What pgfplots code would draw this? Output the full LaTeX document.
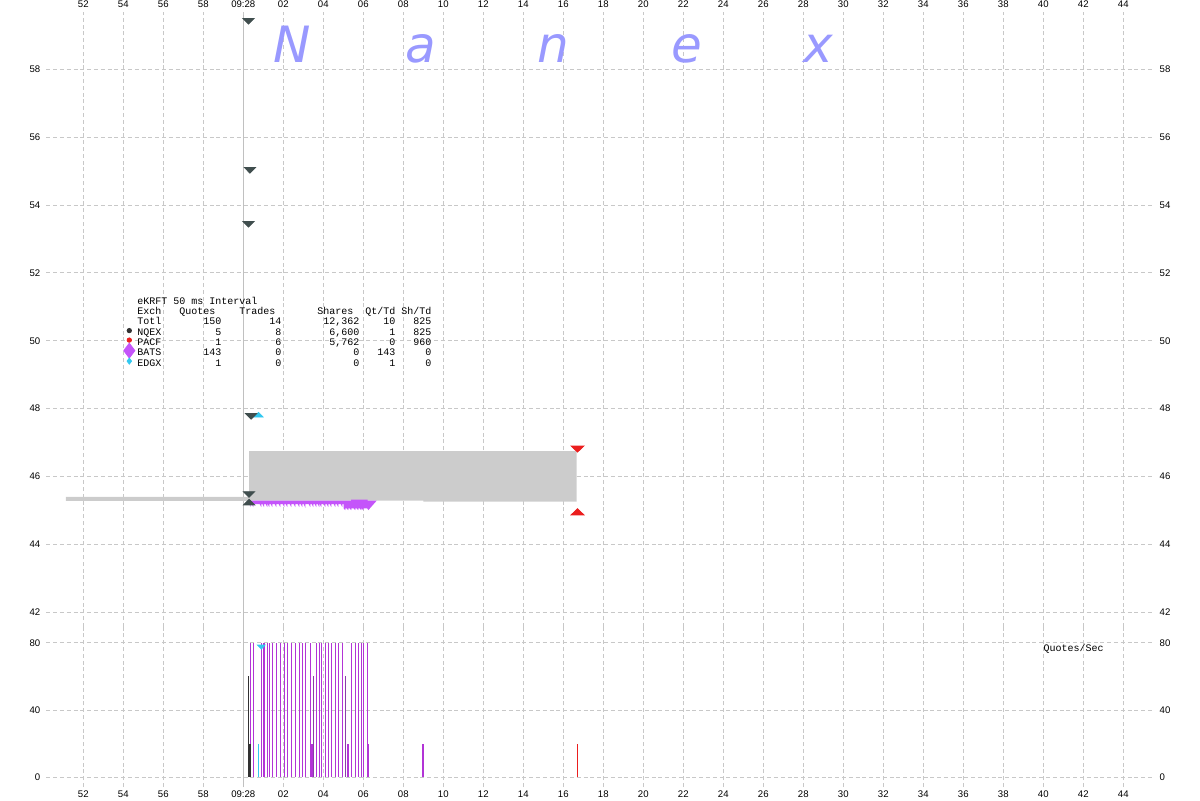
\documentclass[border=0pt]{standalone}
\usepackage{fontspec}
\setmainfont{Liberation Sans}
\setmonofont{Liberation Mono}
\newfontfamily\wm{DejaVu Sans}
\usepackage{pgfplots}
\pgfplotsset{compat=1.18}
\definecolor{gridc}{RGB}{200,200,200}
\definecolor{vline}{RGB}{192,192,192}
\definecolor{bandc}{RGB}{204,204,204}
\definecolor{batsc}{RGB}{196,84,250}
\definecolor{batsbar}{RGB}{178,52,214}
\definecolor{batsdark}{RGB}{140,60,170}
\definecolor{nqex}{RGB}{64,78,78}
\definecolor{nqexdot}{RGB}{50,50,50}
\definecolor{edgx}{RGB}{50,200,240}
\definecolor{pacf}{RGB}{235,30,30}
\definecolor{wmc}{RGB}{153,153,255}
\newcommand\s[1]{\hskip#1\fontcharwd\font`0\relax}
\pgfplotsset{
  base/.style={scale only axis, width=553.5pt, xmin=-9.85, xmax=45.5,
    anchor=south west,
    axis line style={draw=none}, tick style={draw=none}, major tick length=0pt,
    xtick={-8,-6,...,44},
    xticklabels={52,54,56,58,09:28,02,04,06,08,10,12,14,16,18,20,22,24,26,28,30,32,34,36,38,40,42,44},
    major grid style={gridc, line width=0.5pt, dash pattern=on 2pt off 1.4pt},
    tick label style={font=\fontsize{4.8}{5}\selectfont, inner sep=0pt},
    /pgf/number format/assume math mode=true,
  },
  rlab/.style={base, xtick=\empty, yticklabel pos=right, yticklabel style={anchor=west, xshift=3pt}},
}
\begin{document}
\begin{tikzpicture}
\path[use as bounding box] (0,0) rectangle (600pt,400pt);
% ---------- price panel ----------
\begin{axis}[base, at={(23.15pt,86.5pt)}, height=307.5pt,
  ymin=41.567, ymax=59.687, ytick={42,44,...,58}, grid=major,
  xticklabel pos=upper, xticklabel style={yshift=1.85pt},
  yticklabel style={xshift=-2.8pt}]
\addplot[vline, line width=0.6pt] coordinates {(0,41.567) (0,59.6)};
% NQEX quotes partially covered
\addplot[only marks, mark=triangle*, mark size=3.2pt, nqex, mark options={yscale=-0.58}] coordinates {(0.285,45.50)};
\addplot[only marks, mark=triangle*, mark size=3.2pt, nqex, mark options={yscale=0.58}] coordinates {(0.29,45.22)};
% NBBO band
\addplot[fill=bandc, draw=none] coordinates {(-8.87,45.28) (-8.87,45.40) (0.285,45.40) (0.285,46.75) (16.67,46.75) (16.67,45.26) (9.0,45.26) (9.0,45.29) (0.285,45.29) (0.285,45.28)};
% BATS quotes
\addplot[fill=batsc, draw=none] coordinates {
(0.285,45.29) (5.39,45.29) (5.39,45.32) (6.22,45.32) (6.22,45.29) (6.67,45.29) (6.25,45.01)
(6.20,45.06) (6.12,45.06)
(6.00,45.06) (6.00,45.01) (5.92,45.06)
(5.90,45.06) (5.90,45.01) (5.82,45.06)
(5.75,45.06) (5.75,45.01) (5.67,45.06)
(5.60,45.06) (5.60,45.01) (5.52,45.06)
(5.40,45.06) (5.40,45.01) (5.32,45.06)
(5.25,45.06) (5.25,45.01) (5.17,45.06)
(5.10,45.06) (5.10,45.01) (5.02,45.06) (5.02,45.19)
(4.95,45.19) (4.95,45.10) (4.87,45.19)
(4.75,45.19) (4.75,45.10) (4.67,45.19)
(4.60,45.19) (4.60,45.10) (4.52,45.19)
(4.40,45.19) (4.40,45.10) (4.32,45.19)
(4.25,45.19) (4.25,45.10) (4.17,45.19)
(4.10,45.19) (4.10,45.10) (4.02,45.19)
(3.90,45.19) (3.90,45.10) (3.82,45.19)
(3.80,45.19) (3.80,45.10) (3.72,45.19)
(3.65,45.19) (3.65,45.10) (3.57,45.19)
(3.50,45.19) (3.50,45.10) (3.42,45.19)
(3.35,45.19) (3.35,45.10) (3.27,45.19)
(3.10,45.19) (3.10,45.08) (3.02,45.19)
(2.95,45.19) (2.95,45.10) (2.87,45.19)
(2.80,45.19) (2.80,45.10) (2.72,45.19)
(2.60,45.19) (2.60,45.10) (2.52,45.19)
(2.40,45.19) (2.40,45.10) (2.32,45.19)
(2.20,45.19) (2.20,45.10) (2.12,45.19)
(2.05,45.19) (2.05,45.10) (1.97,45.19)
(1.85,45.19) (1.85,45.10) (1.77,45.19)
(1.65,45.19) (1.65,45.10) (1.57,45.19)
(1.45,45.19) (1.45,45.10) (1.37,45.19)
(1.30,45.19) (1.30,45.10) (1.22,45.19)
(1.20,45.19) (1.20,45.10) (1.12,45.19)
(1.035,45.19) (1.035,45.10) (0.955,45.19)
(0.90,45.19) (0.90,45.10) (0.82,45.19)
(0.50,45.19) (0.50,45.10) (0.42,45.19)
(0.37,45.19) (0.37,45.10) (0.30,45.19) (0.285,45.19)};
% EDGX quote
\addplot[only marks, mark=triangle*, mark size=2.6pt, edgx, mark options={yscale=0.6}] coordinates {(0.76,47.80)};
% NQEX asks
\addplot[only marks, mark=triangle*, mark size=3.2pt, nqex, mark options={yscale=-0.58}] coordinates {(0.26,59.44) (0.33,55.05) (0.26,53.46) (0.39,47.80)};
% PACF quote
\addplot[only marks, mark=triangle*, mark size=3.7pt, pacf, mark options={yscale=-0.55}] coordinates {(16.71,46.84)};
\addplot[only marks, mark=triangle*, mark size=3.7pt, pacf, mark options={yscale=0.55}] coordinates {(16.71,44.93)};
% legend markers
\addplot[only marks, mark=*, mark size=1.1pt, nqexdot] coordinates {(-5.70,50.30)};
\addplot[only marks, mark=*, mark size=1.1pt, pacf] coordinates {(-5.70,50.02)};
\addplot[only marks, mark=diamond*, mark size=3.7pt, batsc] coordinates {(-5.70,49.71)};
\addplot[only marks, mark=diamond*, mark size=1.5pt, edgx] coordinates {(-5.70,49.40)};
\end{axis}
\begin{axis}[rlab, at={(23.15pt,86.5pt)}, height=307.5pt,
  ymin=41.567, ymax=59.687, ytick={42,44,...,58}]
\end{axis}
% ---------- quotes/sec panel ----------
\begin{axis}[base, at={(23.15pt,6.5pt)}, height=80pt,
  ymin=-5.97, ymax=89.55, ytick={0,40,80}, grid=major,
  xticklabel pos=lower, xticklabel style={yshift=-1.5pt},
  yticklabel style={xshift=-2.8pt}]
\addplot[vline, line width=0.6pt] coordinates {(0,-5.97) (0,89.55)};
\addplot[ycomb, batsbar, line width=0.55pt, mark=none] coordinates {
(0.37,80) (0.50,80) (0.90,80) (1.035,80) (1.20,80) (1.30,80) (1.45,80) (1.65,80)
(1.85,80) (2.05,80) (2.20,80) (2.40,80) (2.60,80) (2.80,80) (2.95,80) (3.10,80)
(3.35,80) (3.65,80) (3.80,80) (3.90,80) (4.10,80) (4.25,80) (4.40,80) (4.60,80)
(4.75,80) (4.95,80) (5.40,80) (5.60,80) (5.75,80) (5.90,80) (6.00,80) (6.20,80)};
\addplot[ycomb, batsdark, line width=0.55pt, mark=none] coordinates {(3.50,60) (5.10,60)};
\addplot[ycomb, batsbar, line width=0.9pt, mark=none] coordinates {(3.45,20) (5.25,20) (6.25,20) (9.0,20)};
\addplot[ycomb, nqexdot, line width=0.55pt, mark=none] coordinates {(0.25,60)};
\addplot[ycomb, nqexdot, line width=1.3pt, mark=none] coordinates {(0.33,20)};
\addplot[ycomb, edgx, line width=0.6pt, mark=none] coordinates {(0.75,20)};
\addplot[only marks, mark=triangle*, mark size=2.2pt, edgx, mark options={yscale=-0.6}] coordinates {(0.90,78)};
\addplot[ycomb, pacf, line width=0.6pt, mark=none] coordinates {(16.70,20)};
\end{axis}
\begin{axis}[rlab, at={(23.15pt,6.5pt)}, height=80pt,
  ymin=-5.97, ymax=89.55, ytick={0,40,80}]
\end{axis}
% ---------- watermark ----------
\begin{scope}[every node/.style={inner sep=0pt, anchor=base, text=wmc, font=\wm\itshape\fontsize{25}{25}\selectfont}]
\node at (146pt,368.5pt) {N};
\node at (210.5pt,368.5pt) {a};
\node at (276.75pt,368.5pt) {n};
\node at (343.5pt,368.5pt) {e};
\node at (409pt,368.5pt) {x};
\end{scope}
% ---------- stats table ----------
\begin{scope}[every node/.style={inner sep=0pt, anchor=base west, font=\ttfamily\fontsize{5}{5}\selectfont}]
\node at (68.5pt,248pt) {eKRFT 50 ms Interval};
\node at (68.5pt,242.85pt) {Exch\s{3}Quotes\s{4}Trades\s{7}Shares\s{2}Qt/Td\s{1}Sh/Td};
\node at (68.5pt,237.7pt) {Totl\s{7}150\s{8}14\s{7}12,362\s{4}10\s{3}825};
\node at (68.5pt,232.5pt) {NQEX\s{9}5\s{9}8\s{8}6,600\s{5}1\s{3}825};
\node at (68.5pt,227.35pt) {PACF\s{9}1\s{9}6\s{8}5,762\s{5}0\s{3}960};
\node at (68.5pt,222.2pt) {BATS\s{7}143\s{9}0\s{12}0\s{3}143\s{5}0};
\node at (68.5pt,217pt) {EDGX\s{9}1\s{9}0\s{12}0\s{5}1\s{5}0};
\node at (521.65pt,74.5pt) {Quotes/Sec};
\end{scope}
\end{tikzpicture}
\end{document}
